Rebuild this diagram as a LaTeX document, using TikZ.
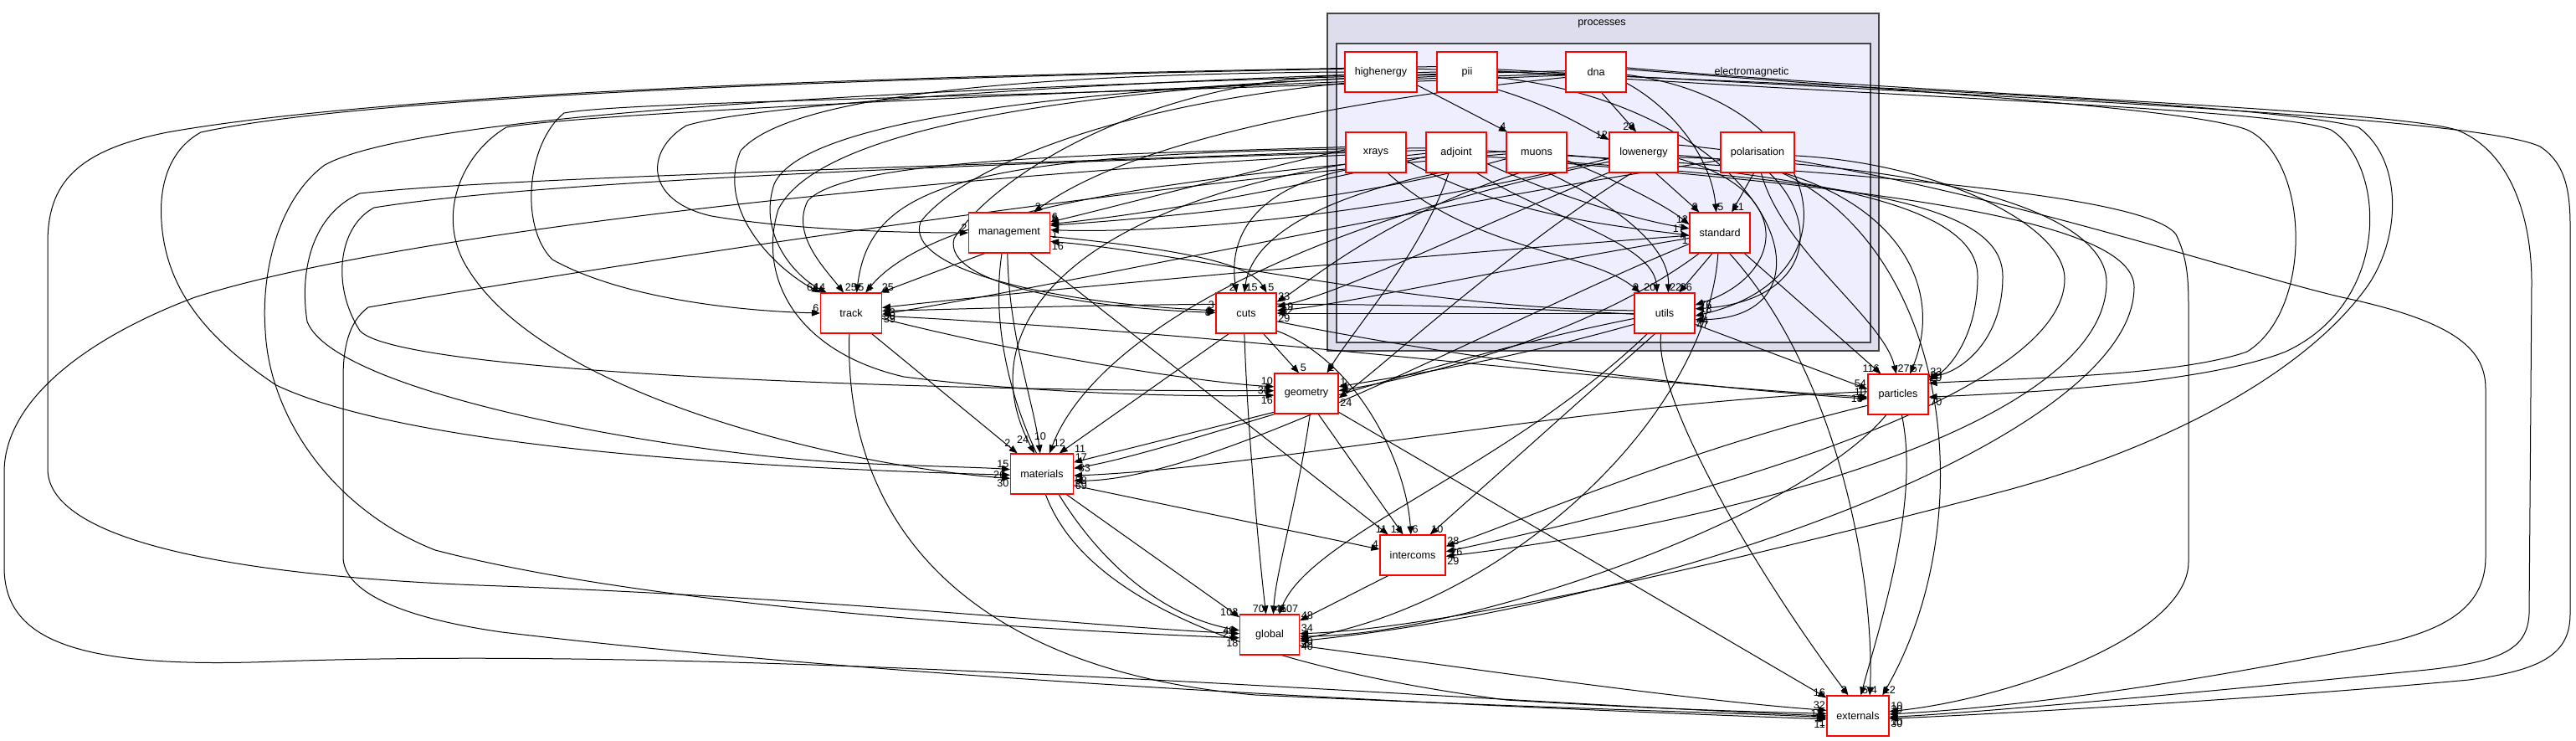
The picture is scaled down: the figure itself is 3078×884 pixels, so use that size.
\documentclass[tikz,border=0pt]{standalone}
\usepackage{fontspec}
\setmainfont{Liberation Sans}
\usetikzlibrary{arrows.meta}
\definecolor{procfill}{HTML}{DDDDEE}
\definecolor{emfill}{HTML}{EEEEFF}
\definecolor{clusterline}{HTML}{444444}
\newcommand\lblfont{\fontsize{6.3}{7}\selectfont}
\pgfdeclarelayer{bg}
\pgfdeclarelayer{edges}
\pgfsetlayers{bg,edges,main}
\tikzset{
  dir/.style={draw=red, fill=white, line width=0.55pt, minimum height=24pt, inner sep=0pt, font=\lblfont},
  dep/.style={-{Triangle[length=5pt,width=3.8pt]}, line width=0.5pt},
  lbl/.style={font=\lblfont, inner sep=0.6pt},
  la/.style={lbl, anchor=south east},
  lb/.style={lbl, anchor=south west},
  lc/.style={lbl, anchor=north west},
  ld/.style={lbl, anchor=north east},
  le/.style={lbl, anchor=west, xshift=2pt},
  lw/.style={lbl, anchor=east, xshift=-2pt}
}
\begin{document}
\begin{tikzpicture}[x=0.5pt,y=-0.5pt]
\useasboundingbox (0,0) rectangle (3078,884);
\begin{pgfonlayer}{bg}
\filldraw[fill=procfill, draw=clusterline, line width=1pt] (1586,16) rectangle (2245,419);
\filldraw[fill=emfill, draw=clusterline, line width=1pt] (1597,52) rectangle (2235,409);
\end{pgfonlayer}
\node[lbl] (proclbl) at (1914,28) {processes};
\node[lbl] (emlbl) at (2093,86) {electromagnetic};
% electromagnetic
\node[dir, minimum width=43pt] (hi) at (1650,86) {highenergy};
\node[dir, minimum width=36pt] (pii) at (1753,86) {pii};
\node[dir, minimum width=36pt] (dna) at (1907,86) {dna};
\node[dir, minimum width=36pt] (xr) at (1644,182) {xrays};
\node[dir, minimum width=36pt] (adj) at (1740,182) {adjoint};
\node[dir, minimum width=36pt] (mu) at (1836,182) {muons};
\node[dir, minimum width=41pt] (low) at (1964,182) {lowenergy};
\node[dir, minimum width=44pt] (pol) at (2100,182) {polarisation};
\node[dir, minimum width=36pt] (std) at (2055,278) {standard};
\node[dir, minimum width=36pt] (ut) at (1989,374) {utils};
% outside
\node[dir, minimum width=48.5pt] (mgmt) at (1206,278) {management};
\node[dir, minimum width=36.5pt] (trk) at (1017,374) {track};
\node[dir, minimum width=36pt] (cuts) at (1489,374) {cuts};
\node[dir, minimum width=38pt] (geo) at (1561,470) {geometry};
\node[dir, minimum width=36pt] (part) at (2268,471) {particles};
\node[dir, minimum width=37.5pt] (mat) at (1245,566) {materials};
\node[dir, minimum width=39pt] (ic) at (1688,663) {intercoms};
\node[dir, minimum width=35.5pt] (glob) at (1517,758) {global};
\node[dir, minimum width=37pt] (ext) at (2220,855) {externals};
\begin{pgfonlayer}{edges}
% inside
\draw[dep] (hi.-20) -- (mu.145) node[la]{4};
\draw[dep] (pii.-30) .. controls (1850,125) and (1890,150) .. (low.160) node[la]{12};
\draw[dep] (dna.-75) -- (low.110) node[la]{20};
\draw[dep] (dna.-20) .. controls (2000,130) and (2045,190) .. (std.100) node[lb]{5};
\draw[dep] (low.-60) -- (std.135) node[la]{9};
\draw[dep] (pol.-100) -- (std.60) node[lb]{11};
\draw[dep] (mu.-15) .. controls (1930,215) and (1990,245) .. (std.165) node[la]{12};
\draw[dep] (adj.-20) .. controls (1850,230) and (1950,262) .. (std.172) node[lw]{17};
\draw[dep] (xr.-15) .. controls (1800,260) and (1950,272) .. (std.185) node[ld]{1};
\draw[dep] (std.-110) -- (ut.55) node[lb]{96};
\draw[dep] (adj.-45) .. controls (1850,260) and (1975,290) .. (ut.110) node[la]{20};
\draw[dep] (mu.-60) .. controls (1920,240) and (1995,290) .. (ut.80) node[lb]{22};
\draw[dep] (xr.-60) .. controls (1760,300) and (1900,300) .. (ut.140) node[la]{9};
\draw[dep] (low.-10) .. controls (2150,230) and (2130,330) .. (ut.15) node[le]{76};
\draw[dep] (pol.-60) .. controls (2180,270) and (2160,360) .. (ut.8) node[le]{18};
\draw[dep] (dna.-5) .. controls (2180,120) and (2230,330) .. (ut.-5) node[lc]{44};
\draw[dep] (pii.-10) .. controls (2120,130) and (2210,380) .. (ut.-12) node[lc]{47};
% management
\draw[dep] (dna.190) .. controls (1600,120) and (1350,170) .. (mgmt.40) node[lb]{2};
\draw[dep] (xr.175) .. controls (1450,215) and (1300,255) .. (mgmt.15) node[lb]{6};
\draw[dep] (adj.188) .. controls (1500,235) and (1350,258) .. (mgmt.12) node[lb]{8};
\draw[dep] (mu.192) .. controls (1600,245) and (1350,262) .. (mgmt.10) node[lb]{1};
\draw[dep] (low.190) .. controls (1600,270) and (1350,278) .. (mgmt.4) node[lc]{1};
\draw[dep] (pii.180) .. controls (1300,98) and (900,125) .. (820,150) .. controls (770,180) and (770,240) .. (850,258) .. controls (950,275) and (1080,278) .. (mgmt.west) node[la]{2};
\draw[dep] (ut.175) .. controls (1700,370) and (1400,300) .. (mgmt.-12) node[lc]{16};
\draw[dep] (mgmt.-140) -- (trk.35) node[lb]{25};
\draw[dep] (mgmt.-5) .. controls (1380,295) and (1490,310) .. (cuts.45) node[lb]{5};
\draw[dep] (mgmt.-95) .. controls (1205,400) and (1235,480) .. (mat.95) node[lbl, yshift=10pt]{10};
\draw[dep] (mgmt.-45) -- (ic.140) node[la]{11};
\draw[dep] (mgmt.-110) .. controls (1170,480) and (1300,720) .. (glob.172) node[lw]{49};
% track
\draw[dep] (hi.180) .. controls (1300,88) and (950,105) .. (885,180) .. controls (855,250) and (925,320) .. (trk.north west) node[la]{64};
\draw[dep] (pii.185) .. controls (1300,105) and (960,140) .. (925,220) .. controls (905,280) and (950,330) .. (trk.140) node[la]{14};
\draw[dep] (xr.170) .. controls (1300,185) and (1010,190) .. (965,240) .. controls (945,280) and (985,320) .. (trk.110) node[lb]{25};
\draw[dep] (adj.172) .. controls (1150,180) and (1040,220) .. (trk.75) node[lb]{5};
\draw[dep] (mu.178) .. controls (1300,215) and (1100,270) .. (trk.55) node[lb]{4};
\draw[dep] (dna.186) .. controls (1300,115) and (750,120) .. (674,135) .. controls (630,170) and (620,270) .. (660,310) .. controls (750,360) and (900,372) .. (trk.west) node[la]{6};
\draw[dep] (std.185) .. controls (1700,305) and (1250,345) .. (trk.10) node[lc]{33};
\draw[dep] (ut.182) .. controls (1600,355) and (1300,365) .. (trk.4) node[lc]{30};
\draw[dep] (pol.192) .. controls (1700,245) and (1300,335) .. (trk.-2) node[lc]{39};
% cuts
\draw[dep] (xr.-150) .. controls (1480,230) and (1470,300) .. (cuts.115) node[la]{2};
\draw[dep] (adj.-130) .. controls (1560,240) and (1495,290) .. (cuts.95) node[lb]{15};
\draw[dep] (mu.-130) .. controls (1650,260) and (1560,340) .. (cuts.20) node[lb]{33};
\draw[dep] (low.-150) .. controls (1700,300) and (1600,350) .. (cuts.12) node[le]{19};
\draw[dep] (std.190) .. controls (1800,320) and (1600,365) .. (cuts.5) node[le]{32};
\draw[dep] (ut.west) -- (cuts.east) node[lc]{29};
\draw[dep] (pii.188) .. controls (1350,110) and (1150,200) .. (1100,265) .. controls (1080,320) and (1250,362) .. (cuts.175) node[la]{3};
\draw[dep] (hi.185) .. controls (1350,100) and (1180,220) .. (1140,285) .. controls (1125,340) and (1300,368) .. (cuts.179) node[lw]{8};
% geometry
\draw[dep] (cuts.-50) -- (geo.110) node[lb]{5};
\draw[dep] (adj.-110) .. controls (1700,300) and (1620,390) .. (geo.45) node[lb]{2};
\draw[dep] (trk.-10) .. controls (1250,430) and (1450,458) .. (geo.168) node[la]{10};
\draw[dep] (adj.176) .. controls (1200,195) and (650,215) .. (447,248) .. controls (405,270) and (395,340) .. (430,395) .. controls (480,450) and (1200,468) .. (geo.175) node[lw]{30};
\draw[dep] (hi.190) .. controls (1300,110) and (980,150) .. (930,250) .. controls (905,330) and (950,420) .. (1080,450) .. controls (1250,472) and (1450,474) .. (geo.183) node[ld]{16};
\draw[dep] (ut.-160) .. controls (1800,430) and (1700,445) .. (geo.12) node[lb]{1};
\draw[dep] (std.-135) .. controls (1900,400) and (1700,450) .. (geo.5) node[le]{4};
\draw[dep] (low.-120) .. controls (1800,300) and (1650,440) .. (geo.-8) node[lc]{24};
% particles
\draw[dep] (std.-40) -- (part.130) node[la]{116};
\draw[dep] (pol.-80) .. controls (2130,300) and (2250,380) .. (part.95) node[lb]{27};
\draw[dep] (low.-5) .. controls (2250,200) and (2330,330) .. (part.60) node[lb]{57};
\draw[dep] (ut.-20) -- (part.170) node[la]{54};
\draw[dep] (trk.-5) .. controls (1500,400) and (1900,455) .. (part.185) node[la]{10};
\draw[dep] (cuts.-15) .. controls (1700,420) and (2000,462) .. (part.188) node[lw]{18};
\draw[dep] (dna.5) .. controls (2300,110) and (2620,130) .. (2685,155) .. controls (2760,190) and (2765,370) .. (2685,420) .. controls (2600,450) and (2400,452) .. (part.20) node[lb]{29};
\draw[dep] (pii.2) .. controls (2300,118) and (2720,130) .. (2785,155) .. controls (2850,195) and (2860,360) .. (2731,420) .. controls (2630,460) and (2400,470) .. (part.-5) node[lc]{70};
\draw[dep] (mu.-5) .. controls (2150,210) and (2363,240) .. (2363,330) .. controls (2363,400) and (2330,440) .. (part.25) node[lb]{20};
\draw[dep] (adj.-8) .. controls (2200,215) and (2393,240) .. (2393,330) .. controls (2393,410) and (2340,445) .. (part.30) node[lb]{23};
% materials
\draw[dep] (trk.-45) -- (mat.140) node[lbl, xshift=-6pt, yshift=6pt]{2};
\draw[dep] (adj.182) .. controls (1300,225) and (1150,380) .. (mat.110) node[lbl, xshift=-7pt, yshift=8pt]{24};
\draw[dep] (low.195) .. controls (1500,280) and (1300,420) .. (mat.70) node[lbl, xshift=6pt, yshift=6pt]{12};
\draw[dep] (cuts.-130) -- (mat.50) node[lbl, xshift=12.5pt, yshift=2.5pt]{11};
\draw[dep] (xr.178) .. controls (1100,200) and (600,212) .. (430,231) .. controls (375,255) and (357,320) .. (367,384) .. controls (400,470) and (800,540) .. (1000,552) .. controls (1100,557) and (1170,558) .. (mat.172) node[la]{15};
\draw[dep] (hi.175) .. controls (1100,92) and (450,112) .. (240,158) .. controls (200,180) and (190,225) .. (193,265) .. controls (198,340) and (240,400) .. (330,460) .. controls (500,540) and (950,560) .. (mat.182) node[lw]{26};
\draw[dep] (dna.183) .. controls (1300,108) and (700,135) .. (605,152) .. controls (550,185) and (520,260) .. (559,321) .. controls (650,470) and (1000,556) .. (mat.188) node[ld]{30};
\draw[dep] (geo.-150) -- (mat.20) node[lb]{17};
\draw[dep] (ut.-170) .. controls (1700,430) and (1400,540) .. (mat.10) node[le]{33};
\draw[dep] (part.175) .. controls (1900,480) and (1500,560) .. (mat.-3) node[lc]{58};
\draw[dep] (std.-160) .. controls (1800,380) and (1450,575) .. (mat.-12) node[lc]{69};
% intercoms
\draw[dep] (geo.-60) -- (ic.115) node[la]{11};
\draw[dep] (cuts.-30) .. controls (1620,430) and (1680,550) .. (ic.95) node[lb]{6};
\draw[dep] (ut.-115) -- (ic.50) node[lb]{10};
\draw[dep] (mat.-20) -- (ic.170) node[la]{4};
\draw[dep] (part.-160) .. controls (2000,540) and (1800,630) .. (ic.15) node[lb]{28};
\draw[dep] (pol.-5) .. controls (2320,195) and (2467,270) .. (2467,333) .. controls (2467,460) and (2100,580) .. (ic.6) node[le]{26};
\draw[dep] (low.-8) .. controls (2380,200) and (2517,270) .. (2517,337) .. controls (2517,500) and (2100,620) .. (ic.-2) node[lc]{29};
% global
\draw[dep] (mat.-40) -- (glob.150) node[la]{103};
\draw[dep] (cuts.-95) .. controls (1490,500) and (1503,650) .. (glob.100) node[la]{70};
\draw[dep] (geo.-80) .. controls (1550,600) and (1525,680) .. (glob.80) node[lb]{45};
\draw[dep] (ut.-130) .. controls (1800,560) and (1565,640) .. (glob.65) node[lb]{107};
\draw[dep] (ic.-140) -- (glob.25) node[lb]{48};
\draw[dep] (pii.170) .. controls (1200,88) and (500,105) .. (200,158) .. controls (90,180) and (57,220) .. (57,290) -- (57,560) .. controls (57,650) and (300,690) .. (600,700) .. controls (1000,715) and (1300,748) .. (glob.178) node[lw]{25};
\draw[dep] (dna.178) .. controls (1300,98) and (520,125) .. (388,197) .. controls (330,240) and (312,330) .. (317,395) .. controls (322,500) and (400,610) .. (520,657) .. controls (800,730) and (1300,755) .. (glob.186) node[ld]{18};
\draw[dep] (part.-120) .. controls (2150,620) and (1750,760) .. (glob.-3) node[lc]{30};
\draw[dep] (std.-95) .. controls (2040,500) and (1800,720) .. (glob.-8) node[lc]{32};
\draw[dep] (hi.5) .. controls (2200,100) and (2720,125) .. (2818,152) .. controls (2870,190) and (2870,280) .. (2830,340) .. controls (2760,440) and (2600,530) .. (2400,585) .. controls (2000,690) and (1700,752) .. (glob.2) node[lb]{34};
\draw[dep] (mu.-20) .. controls (2300,230) and (2550,270) .. (2550,343) .. controls (2550,520) and (2000,720) .. (glob.-12) node[lc]{40};
% externals
\draw[dep] (geo.-30) -- (ext.150) node[la]{16};
\draw[dep] (ut.-100) .. controls (1975,480) and (2110,700) .. (ext.115) node[la]{3};
\draw[dep] (part.-80) .. controls (2295,600) and (2245,750) .. (ext.82) node[lb]{5};
\draw[dep] (std.-65) .. controls (2200,450) and (2240,700) .. (ext.60) node[lb]{4};
\draw[dep] (pol.-40) .. controls (2330,300) and (2370,620) .. (ext.40) node[lb]{12};
\draw[dep] (glob.-20) .. controls (1700,790) and (2000,835) .. (ext.170) node[la]{32};
\draw[dep] (xr.185) .. controls (1200,205) and (500,270) .. (233,355) .. controls (100,405) and (5,480) .. (5,564) -- (5,677) .. controls (5,760) and (80,800) .. (330,790) .. controls (900,770) and (1700,835) .. (ext.180) node[lbl, anchor=east, xshift=-3pt, yshift=-1pt]{1};
\draw[dep] (mu.183) .. controls (1300,225) and (650,330) .. (440,367) .. controls (415,385) and (410,420) .. (410,451) -- (410,665) .. controls (410,700) and (460,735) .. (600,755) .. controls (1100,815) and (1800,845) .. (ext.186) node[ld]{11};
\draw[dep] (trk.-95) .. controls (1008,620) and (1150,800) .. (1500,830) .. controls (1900,848) and (2100,852) .. (ext.183) node[ld]{1};
\draw[dep] (mat.-80) .. controls (1290,700) and (1450,790) .. (1800,836) .. controls (2000,848) and (2100,850) .. (ext.176) node[lw]{11};
\draw[dep] (dna.8) .. controls (2300,112) and (2850,130) .. (2935,155) .. controls (3000,180) and (3025,260) .. (3025,338) -- (3022,733) .. controls (3020,775) and (2990,790) .. (2900,800) .. controls (2600,830) and (2350,852) .. (ext.-2) node[lc]{10};
\draw[dep] (pii.5) .. controls (2400,116) and (2960,140) .. (3035,175) .. controls (3066,195) and (3071,230) .. (3071,270) -- (3071,733) .. controls (3071,780) and (3040,800) .. (2950,812) .. controls (2700,835) and (2400,852) .. (ext.-5) node[lc]{30};
\draw[dep] (low.12) .. controls (2300,200) and (2650,320) .. (2798,355) .. controls (2940,385) and (2970,420) .. (2970,465) -- (2970,665) .. controls (2970,720) and (2930,750) .. (2850,768) .. controls (2600,820) and (2400,845) .. (ext.3) node[lb]{30};
\draw[dep] (adj.3) .. controls (2100,200) and (2560,225) .. (2600,280) .. controls (2615,310) and (2615,340) .. (2615,372) -- (2615,671) .. controls (2615,760) and (2400,835) .. (ext.8) node[lb]{10};
\end{pgfonlayer}
\end{tikzpicture}
\end{document}
